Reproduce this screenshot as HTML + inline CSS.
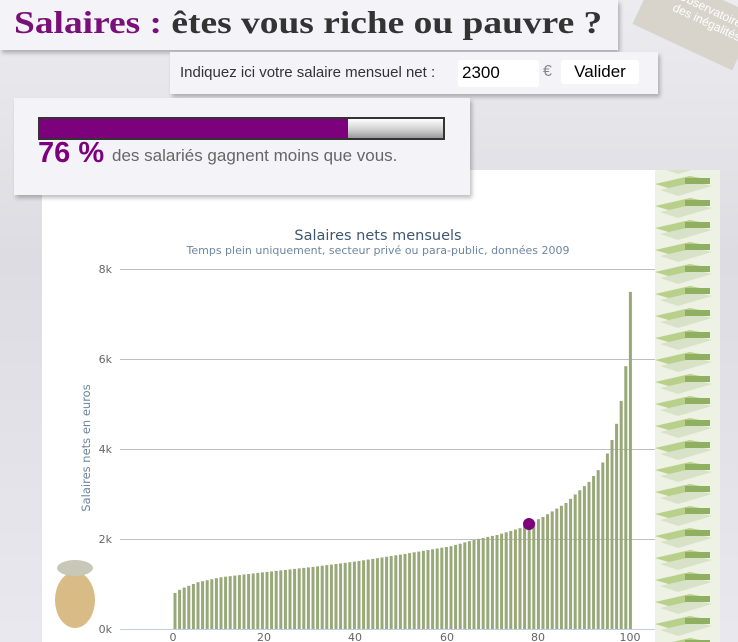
<!DOCTYPE html>
<html><head><meta charset="utf-8"><style>
body{margin:0;width:738px;height:642px;overflow:hidden;background:#e6e6ec;font-family:"Liberation Sans",sans-serif;position:relative}
.p{position:absolute;background:#f4f4f8;box-shadow:2px 3px 4px rgba(0,0,0,.25)}
</style></head><body>
<div style="position:absolute;left:0;top:0;width:738px;height:642px;background:linear-gradient(180deg,#ececf0,#dcdce2 40%,#e8e8ee)"></div>
<div style="position:absolute;left:42px;top:170px;width:618px;height:472px;background:#fff"></div>
<div class="p" style="left:0;top:0;width:618px;height:50px"></div>
<div style="position:absolute;left:14px;top:4px;font-family:'Liberation Serif',serif;font-weight:bold;font-size:32px;color:#333;white-space:nowrap;transform:scaleX(1.17);transform-origin:0 0"><span style="color:#7a0f7a">Salaires :</span> êtes vous riche ou pauvre ?</div>
<div style="position:absolute;left:640px;top:-10px;width:110px;height:60px;background:#d8d4cc;transform:rotate(25deg);color:#fff;font-size:12px;padding:8px 0 0 30px;box-sizing:border-box;line-height:13px">Observatoire<br>des inégalités</div>
<div class="p" style="left:170px;top:52px;width:488px;height:42px"></div>
<div style="position:absolute;left:180px;top:64px;font-size:15px;color:#333">Indiquez ici votre salaire mensuel net :</div>
<div style="position:absolute;left:458px;top:60px;width:81px;height:27px;background:#fff;border-radius:3px"></div>
<div style="position:absolute;left:462px;top:63px;font-size:17px;color:#000">2300</div>
<div style="position:absolute;left:543px;top:63px;font-size:16px;color:#888">€</div>
<div style="position:absolute;left:561px;top:60px;width:78px;height:24px;background:#fff;border-radius:3px;font-size:17px;text-align:center;line-height:24px;color:#000">Valider</div>
<div class="p" style="left:14px;top:98px;width:456px;height:97px"></div>
<div style="position:absolute;left:38px;top:117px;width:403px;height:19px;border:2px solid #333;background:linear-gradient(#fff,#ccc 60%,#999)"></div>
<div style="position:absolute;left:40px;top:119px;width:308px;height:19px;background:#7d007d"></div>
<div style="position:absolute;left:38px;top:137px;font-size:29px;font-weight:bold;color:#7d007d">76 %</div>
<div style="position:absolute;left:112px;top:146px;font-size:17px;color:#666">des salariés gagnent moins que vous.</div>
<svg style="position:absolute;left:0;top:0" width="738" height="642" id="s">
<text x="378" y="240" text-anchor="middle" font-family="DejaVu Sans" font-size="14.5" fill="#3e576f">Salaires nets mensuels</text>
<text x="378" y="254" text-anchor="middle" font-family="DejaVu Sans" font-size="11" fill="#6d869f">Temps plein uniquement, secteur privé ou para-public, données 2009</text>
<text transform="translate(90,448) rotate(-90)" text-anchor="middle" font-family="DejaVu Sans" font-size="11.5" fill="#6d869f">Salaires nets en euros</text>
<g stroke="#c0c0c0" stroke-width="1"><line x1="120" x2="660" y1="269.5" y2="269.5"/><line x1="120" x2="660" y1="359.5" y2="359.5"/><line x1="120" x2="660" y1="449.5" y2="449.5"/><line x1="120" x2="660" y1="539.5" y2="539.5"/></g>
<line x1="120" x2="660" y1="629.5" y2="629.5" stroke="#c0d0e0"/>
<g font-family="DejaVu Sans" font-size="11" fill="#666" text-anchor="end"><text x="112" y="273">8k</text><text x="112" y="363">6k</text><text x="112" y="453">4k</text><text x="112" y="543">2k</text><text x="112" y="633">0k</text></g>
<g font-family="DejaVu Sans" font-size="11" fill="#666" text-anchor="middle"><text x="173" y="641">0</text><text x="264" y="641">20</text><text x="355" y="641">40</text><text x="447" y="641">60</text><text x="538" y="641">80</text><text x="630" y="641">100</text></g>
<g id="bars" fill="#98a878"></g>
<rect x="655" y="170" width="65" height="472" fill="url(#bill)"/>
<defs><pattern id="bill" width="65" height="22" patternUnits="userSpaceOnUse"><rect width="65" height="22" fill="#eef2e4"/><polygon points="5,8 40,0 60,4 25,14" fill="#b9d08a"/><polygon points="10,14 45,6 62,10 28,20" fill="#d8e2c8"/><rect x="35" y="2" width="25" height="6" fill="#8fb060"/></pattern></defs>
<circle cx="529" cy="524" r="6" fill="#7d007d"/>
<g><ellipse cx="75" cy="600" rx="20" ry="28" fill="#d9bb85"/><ellipse cx="75" cy="568" rx="18" ry="8" fill="#c8c8b8"/></g>
</svg>
<script>
var pts=[[0,.8],[1,.87],[2,.92],[5,1.04],[10,1.15],[20,1.27],[30,1.38],[40,1.51],[50,1.67],[60,1.84],[65,1.98],[70,2.09],[75,2.24],[80,2.49],[85,2.8],[90,3.27],[92,3.53],[93,3.7],[94,3.9],[95,4.2],[96,4.56],[97,5.07],[98,5.84],[99,7.49]];
function v(i){for(var k=0;k<pts.length-1;k++){var a=pts[k],b=pts[k+1];if(i>=a[0]&&i<=b[0])return a[1]+(b[1]-a[1])*(i-a[0])/(b[0]-a[0]);}return 7.49;}
var g=document.getElementById('bars'),h='';
for(var i=0;i<100;i++){var val=v(i),y=629-val*45;h+='<rect x="'+(173.5+i*4.6).toFixed(1)+'" y="'+y.toFixed(1)+'" width="3" height="'+(629-y).toFixed(1)+'"/>';}
g.innerHTML=h;
</script>
</body></html>
